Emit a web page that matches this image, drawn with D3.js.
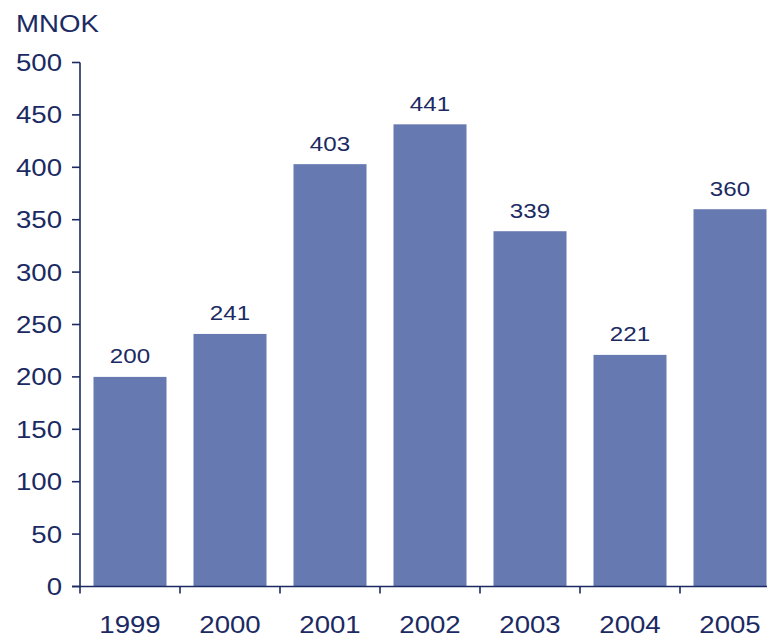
<!DOCTYPE html>
<html>
<head>
<meta charset="utf-8">
<script src="https://cdn.jsdelivr.net/npm/d3@7"></script>
<style>
  html, body { margin: 0; padding: 0; background: #fff; }
  svg { display: block; }
  text { font-family: "Liberation Sans", Arial, sans-serif; fill: #1b2a63; }
</style>
</head>
<body>
<svg id="chart" width="767" height="636"></svg>
<script>
// Annual amounts, million NOK
const years = ["1999", "2000", "2001", "2002", "2003", "2004", "2005"];
const values = [200, 241, 403, 441, 339, 221, 360];
const yTicks = [0, 50, 100, 150, 200, 250, 300, 350, 400, 450, 500];
const unitLabel = "MNOK";

const W = 767, H = 636;
const navy = "#1b2a63";
const barColor = "#6679b1";
const stretch = 1.15; // wide lettering

const svg = d3.select("#chart");

const x = d3.scaleBand()
  .domain(years)
  .range([80, 780])
  .paddingInner(0.27)
  .paddingOuter(0.135);

const y = d3.scaleLinear()
  .domain([0, 500])
  .range([586.5, 62.5]);

// bars
svg.append("g").selectAll("rect")
  .data(values)
  .join("rect")
  .attr("x", (d, i) => x(years[i]))
  .attr("y", d => y(d))
  .attr("width", x.bandwidth())
  .attr("height", d => y(0) - y(d))
  .attr("fill", barColor);

// helper for horizontally widened text
function wideText(g, tx, ty, str, size, anchor) {
  g.append("text")
    .attr("transform", `translate(${tx},${ty}) scale(${stretch},1)`)
    .attr("text-anchor", anchor)
    .attr("font-size", size)
    .text(str);
}

// value labels
const lab = svg.append("g");
values.forEach((v, i) => {
  wideText(lab, x(years[i]) + x.bandwidth() / 2, y(v) - 13.5, String(v), 21, "middle");
});

// y axis
const yAxis = svg.append("g");
yAxis.append("line")
  .attr("x1", 80).attr("x2", 80)
  .attr("y1", y(500)).attr("y2", y(0) + 7)
  .attr("stroke", navy).attr("stroke-width", 1.6);
yTicks.forEach(t => {
  yAxis.append("line")
    .attr("x1", 72).attr("x2", 80)
    .attr("y1", y(t)).attr("y2", y(t))
    .attr("stroke", navy).attr("stroke-width", 1.6);
  wideText(yAxis, 62, y(t) + 8.5, String(t), 24, "end");
});

// x axis
const xAxis = svg.append("g");
xAxis.append("line")
  .attr("x1", 72).attr("x2", W)
  .attr("y1", y(0)).attr("y2", y(0))
  .attr("stroke", navy).attr("stroke-width", 1.6);
years.forEach((yr, i) => {
  const left = x(yr) - x.step() * x.paddingInner() / 2;
  if (i > 0) {
    xAxis.append("line")
      .attr("x1", left).attr("x2", left)
      .attr("y1", y(0)).attr("y2", y(0) + 7)
      .attr("stroke", navy).attr("stroke-width", 1.6);
  }
  wideText(xAxis, x(yr) + x.bandwidth() / 2, 633, yr, 24, "middle");
});

// unit label
wideText(svg, 16, 32, unitLabel, 24, "start");
</script>
</body>
</html>
